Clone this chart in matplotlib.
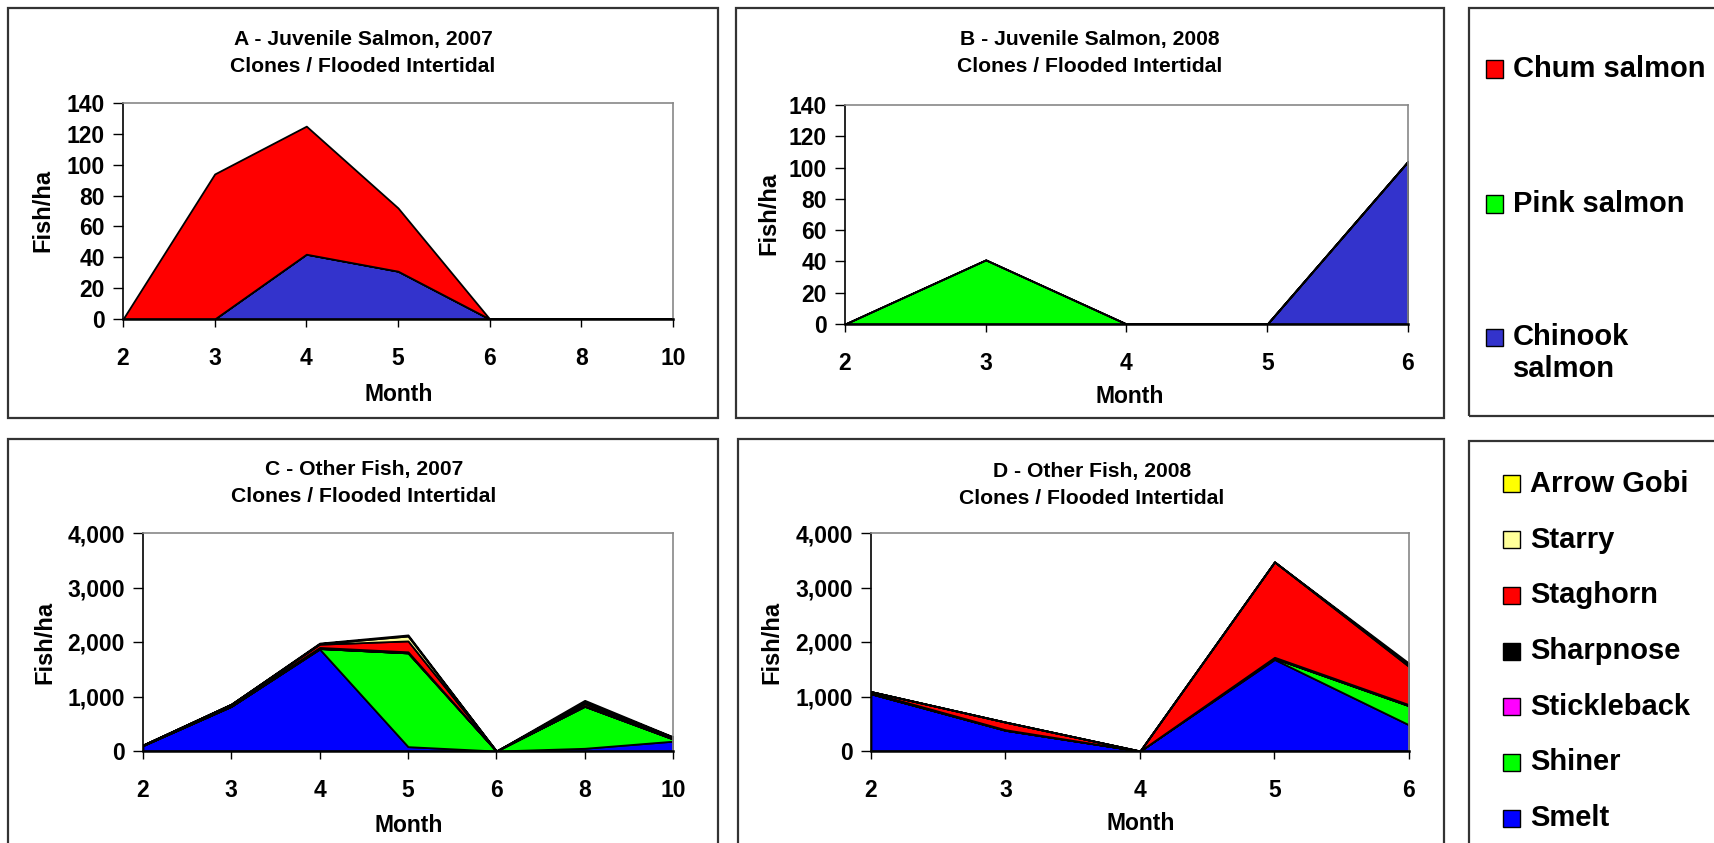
import matplotlib
matplotlib.use("Agg")
import matplotlib.pyplot as plt
from matplotlib.patches import Rectangle
from matplotlib.ticker import FuncFormatter

plt.rcParams['font.family'] = ['Liberation Sans', 'DejaVu Sans']
plt.rcParams['font.weight'] = 'bold'

W, H = 1715, 843

# month categories
months_2007 = ['2', '3', '4', '5', '6', '8', '10']
months_2008 = ['2', '3', '4', '5', '6']

# juvenile salmon (fish/ha), stacked bottom to top: chinook, pink, chum
chinook_2007 = [0, 0, 42, 31, 0, 0, 0]
pink_2007 = [0, 0, 0, 0, 0, 0, 0]
chum_2007 = [0, 94, 83, 41, 0, 0, 0]

chinook_2008 = [0, 0, 0, 0, 104]
pink_2008 = [0, 41, 0, 0, 0]
chum_2008 = [0, 0, 0, 0, 0]

# other fish (fish/ha), stacked bottom to top
smelt_2007 = [100, 820, 1870, 80, 0, 50, 180]
shiner_2007 = [0, 0, 10, 1720, 0, 770, 40]
stickleback_2007 = [0, 0, 0, 0, 0, 0, 0]
sharpnose_2007 = [10, 30, 20, 20, 0, 10, 20]
staghorn_2007 = [0, 10, 60, 200, 0, 40, 10]
starry_2007 = [0, 0, 10, 90, 0, 30, 5]
gobi_2007 = [0, 0, 10, 20, 0, 30, 5]

smelt_2008 = [1050, 380, 0, 1680, 480]
shiner_2008 = [0, 0, 0, 20, 350]
stickleback_2008 = [0, 0, 0, 0, 0]
sharpnose_2008 = [20, 10, 0, 20, 20]
staghorn_2008 = [20, 140, 0, 1750, 700]
starry_2008 = [0, 0, 0, 0, 30]
gobi_2008 = [0, 0, 0, 0, 30]

salmon_names = ['Chum salmon', 'Pink salmon', 'Chinook\nsalmon']
salmon_colors = ['#FF0000', '#00FF00', '#3333CC']  # chum, pink, chinook
other_names = ['Arrow Gobi', 'Starry', 'Staghorn', 'Sharpnose', 'Stickleback', 'Shiner', 'Smelt']
other_colors = ['#FFFF00', '#FFFF99', '#FF0000', '#000000', '#FF00FF', '#00FF00', '#0000FF']


def fbox(l, t, r, b):
    return [l / W, 1 - b / H, (r - l) / W, (b - t) / H]


def fx(x):
    return x / W


def fy(y):
    return 1 - y / H


fig = plt.figure(figsize=(W / 100, H / 100), dpi=100)

# outer frames of each panel
for l, t, r, b in [(8, 8, 718, 418), (736, 8, 1444, 418), (1469, 8, 1720, 416),
                   (8, 439, 718, 850), (738, 439, 1444, 850), (1469, 441, 1720, 850)]:
    fig.add_artist(Rectangle((fx(l), fy(b)), (r - l) / W, (b - t) / H,
                             transform=fig.transFigure, fill=False,
                             edgecolor='#333333', linewidth=1.6))


def panel(rect, cats, layers, colors, ymax, ystep, title, tx, ty, mx, my, fishx, fishy, comma=False):
    ax = fig.add_axes(fbox(*rect))
    x = list(range(len(cats)))
    ax.stackplot(x, *layers, colors=colors, edgecolor='black', linewidth=1.3)
    ax.set_xlim(0, len(cats) - 1)
    ax.set_ylim(0, ymax)
    ax.set_xticks(x)
    ax.set_xticklabels(cats)
    ax.set_yticks(range(0, ymax + 1, ystep))
    if comma:
        ax.yaxis.set_major_formatter(FuncFormatter(lambda v, p: f'{int(v):,}'))
    ax.tick_params(axis='x', length=6, width=1, pad=14.5, labelsize=16.5)
    ax.tick_params(axis='y', length=7, width=1, pad=6, labelsize=16.5)
    for s in ['top', 'right']:
        ax.spines[s].set_color('#888888')
        ax.spines[s].set_linewidth(1.2)
    ax.spines['left'].set_linewidth(1.2)
    ax.spines['bottom'].set_linewidth(1.8)
    fig.text(fx(tx), fy(ty), title[0], ha='center', va='center', fontsize=15.2, fontweight='bold')
    fig.text(fx(tx), fy(ty + 27), title[1], ha='center', va='center', fontsize=15.2, fontweight='bold')
    fig.text(fx(mx), fy(my), 'Month', ha='center', va='center', fontsize=16.5, fontweight='bold')
    fig.text(fx(fishx), fy(fishy), 'Fish/ha', ha='center', va='center', fontsize=17,
             fontweight='bold', rotation=90)
    return ax


sub = 'Clones / Flooded Intertidal'
salmon_fill = salmon_colors[::-1]  # bottom to top: chinook, pink, chum
other_fill = other_colors[::-1]    # bottom to top: smelt ... arrow gobi

panel((123, 103, 673, 319), months_2007, [chinook_2007, pink_2007, chum_2007], salmon_fill,
      140, 20, ('A - Juvenile Salmon, 2007', sub), 363, 40, 399, 395, 43, 210)
panel((845, 105, 1408, 324), months_2008, [chinook_2008, pink_2008, chum_2008], salmon_fill,
      140, 20, ('B - Juvenile Salmon, 2008', sub), 1090, 40, 1130, 396, 769, 213)
panel((143, 533, 673, 751), months_2007,
      [smelt_2007, shiner_2007, stickleback_2007, sharpnose_2007, staghorn_2007, starry_2007, gobi_2007],
      other_fill, 4000, 1000, ('C - Other Fish, 2007', sub), 364, 470, 409, 825, 45, 642, comma=True)
panel((871, 533, 1409, 751), months_2008,
      [smelt_2008, shiner_2008, stickleback_2008, sharpnose_2008, staghorn_2008, starry_2008, gobi_2008],
      other_fill, 4000, 1000, ('D - Other Fish, 2008', sub), 1092, 471, 1141, 823, 772, 642, comma=True)

# legend boxes
sq = 17
for name, col, yc in zip(salmon_names, salmon_colors, [69, 204, 337]):
    fig.add_artist(Rectangle((fx(1486), fy(yc + sq / 2)), sq / W, sq / H, transform=fig.transFigure,
                             facecolor=col, edgecolor='black', linewidth=1))
    lines = name.split('\n')
    for k, line in enumerate(lines):
        fig.text(fx(1513), fy(yc + 32 * k), line, ha='left', va='center', fontsize=21, fontweight='bold')

for i, (name, col) in enumerate(zip(other_names, other_colors)):
    yc = 484 + i * 55.7
    fig.add_artist(Rectangle((fx(1503), fy(yc + sq / 2)), sq / W, sq / H, transform=fig.transFigure,
                             facecolor=col, edgecolor='black', linewidth=1))
    fig.text(fx(1530), fy(yc), name, ha='left', va='center', fontsize=21, fontweight='bold')

fig.savefig('out.png', dpi=100)
